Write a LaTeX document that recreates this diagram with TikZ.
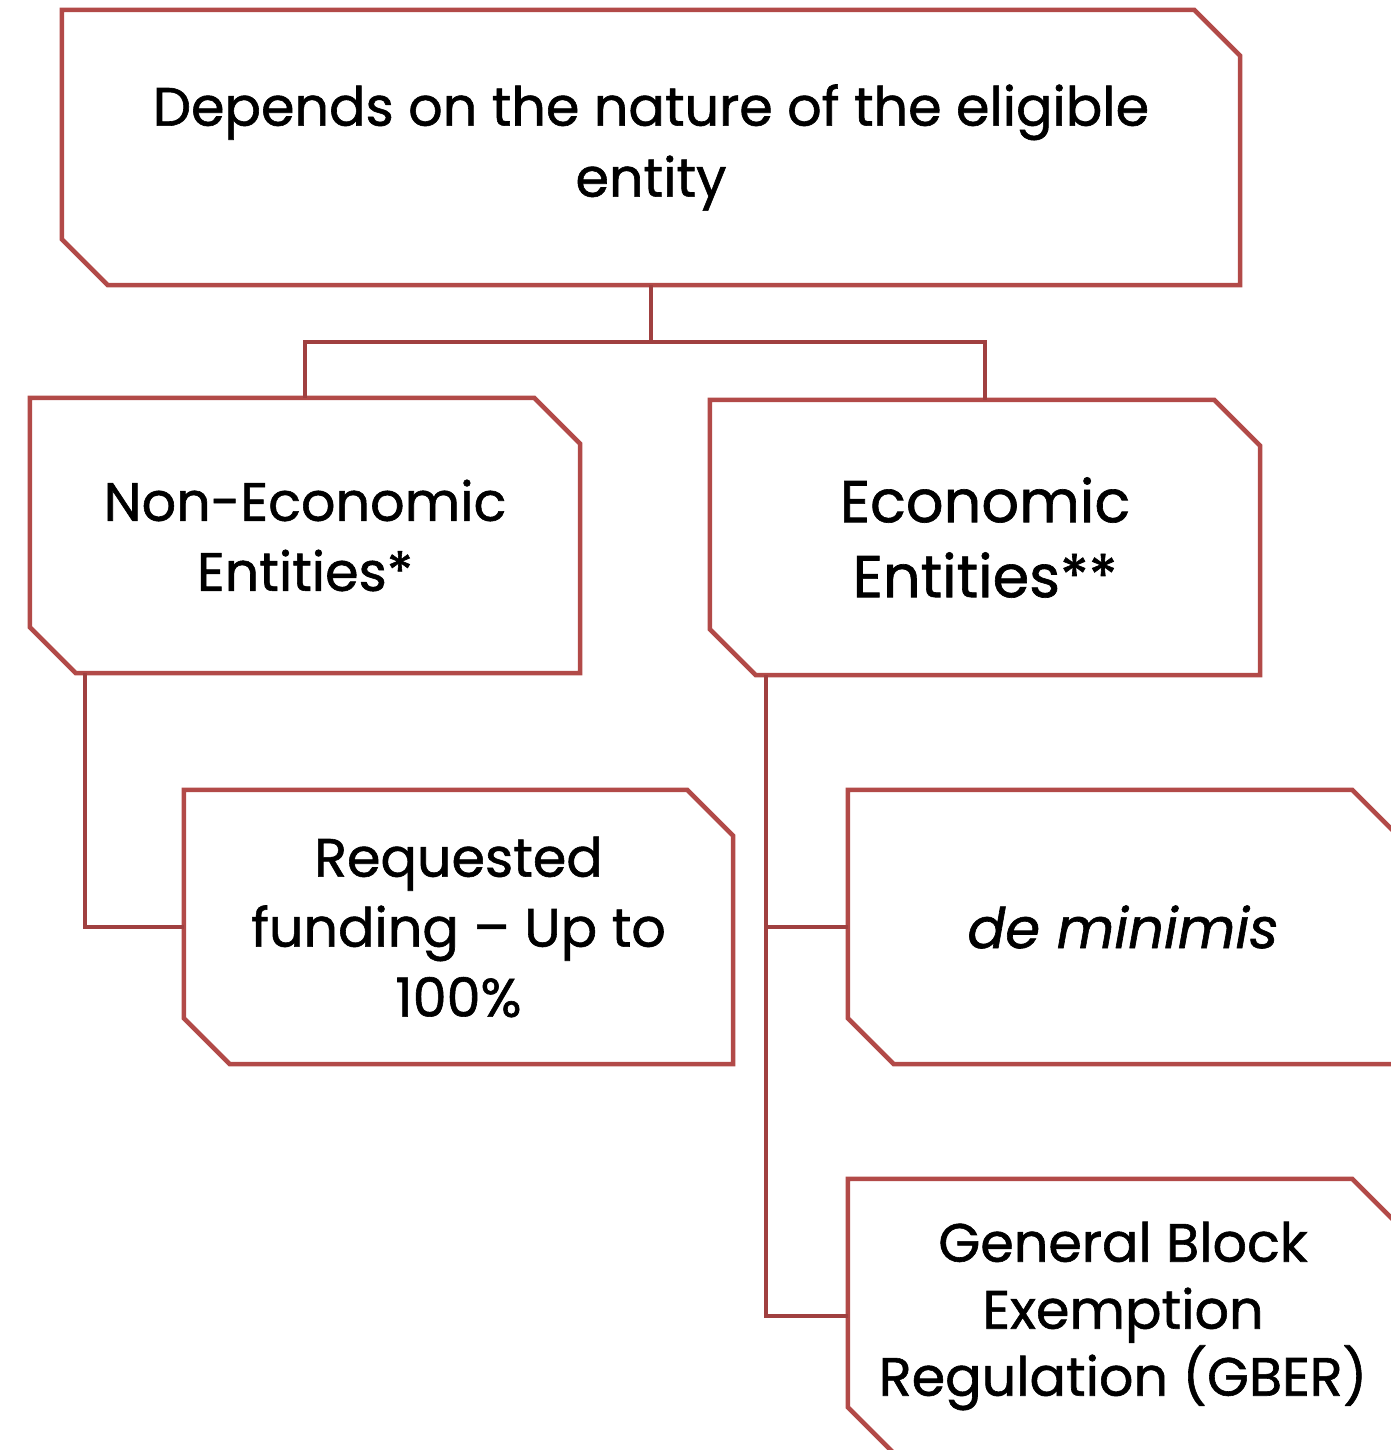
\documentclass[tikz,border=0pt]{standalone}
\usepackage{fontspec}
\setmainfont{Poppins}[FakeBold=1.1]
\definecolor{boxred}{RGB}{178,74,72}
\definecolor{linkred}{RGB}{160,64,64}
\newcommand\chbox[1]{%
  \draw[boxline] (#1.north west) -- ([xshift=-46pt]#1.north east) -- ([yshift=-46pt]#1.north east)
    -- (#1.south east) -- ([xshift=46pt]#1.south west) -- ([yshift=46pt]#1.south west) -- cycle;}
\begin{document}
\begin{tikzpicture}[x=1pt,y=-1pt,
  box/.style={draw=none,rectangle,inner sep=0pt,align=center,text=black},
  boxline/.style={draw=boxred,line width=4.5pt,line join=miter},
  link/.style={draw=linkred,line width=4.5pt}]
\useasboundingbox (0,0) rectangle (1391,1450);
\clip (0,0) rectangle (1391,1450);
\node[box,minimum width=1178pt,minimum height=275pt,font=\fontsize{54}{71}\selectfont] (top) at (651,147.5)
  {Depends on the nature of the eligible\\entity};
\node[box,minimum width=550pt,minimum height=275pt,font=\fontsize{54}{70}\selectfont] (nonecon) at (305,535.5)
  {Non-Economic\\Entities*};
\node[box,minimum width=550pt,minimum height=275pt,font=\fontsize{59}{75}\selectfont] (econ) at (985,537.5)
  {Economic\\Entities**};
\node[box,minimum width=549pt,minimum height=274pt,font=\fontsize{54}{70}\selectfont] (req) at (458.5,927)
  {Requested\\funding – Up to\\100\%};
\node[box,minimum width=550pt,minimum height=274pt,font=\fontsize{56}{70}\selectfont] (demin) at (1123,927)
  {\itshape de minimis};
\node[box,minimum width=550pt,minimum height=274pt,font=\fontsize{54}{67}\selectfont] (gber) at (1123,1316)
  {General Block\\Exemption\\Regulation (GBER)};
\chbox{top}\chbox{nonecon}\chbox{econ}\chbox{req}\chbox{demin}\chbox{gber}
\coordinate (j) at (651,342);
\draw[link] (top.south) -- (j);
\draw[link] (nonecon.north) |- (j) -| (econ.north);
\draw[link] ([xshift=55pt]nonecon.south west) |- (req.west);
\coordinate (ev) at ([xshift=56pt]econ.south west);
\draw[link] (ev) |- (gber.west);
\draw[link] (ev |- demin.west) -- (demin.west);
\end{tikzpicture}
\end{document}
